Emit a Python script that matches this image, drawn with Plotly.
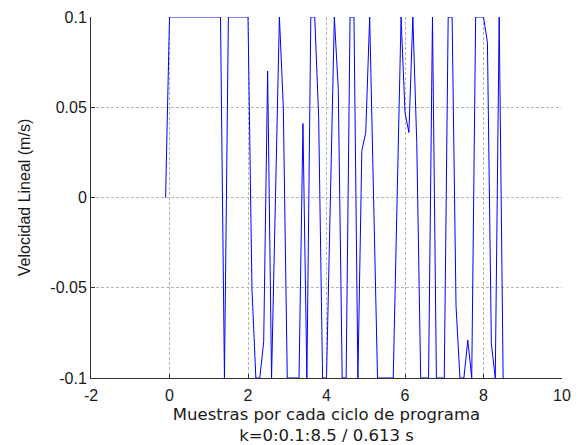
import plotly.graph_objects as go

# sample positions: start point plus k = 0:0.1:8.5
k_values = [-0.1,
            0.0, 0.1, 0.2, 0.3, 0.4, 0.5, 0.6, 0.7, 0.8, 0.9,
            1.0, 1.1, 1.2, 1.3, 1.4, 1.5, 1.6, 1.7, 1.8, 1.9,
            2.0, 2.1, 2.2, 2.3, 2.4, 2.5, 2.6, 2.7, 2.8, 2.9,
            3.0, 3.1, 3.2, 3.3, 3.4, 3.5, 3.6, 3.7, 3.8, 3.9,
            4.0, 4.1, 4.2, 4.3, 4.4, 4.5, 4.6, 4.7, 4.8, 4.9,
            5.0, 5.1, 5.2, 5.3, 5.4, 5.5, 5.6, 5.7, 5.8, 5.9,
            6.0, 6.1, 6.2, 6.3, 6.4, 6.5, 6.6, 6.7, 6.8, 6.9,
            7.0, 7.1, 7.2, 7.3, 7.4, 7.5, 7.6, 7.7, 7.8, 7.9,
            8.0, 8.1, 8.2, 8.3, 8.4, 8.5]

velocity = [0.0,
            0.1, 0.1, 0.1, 0.1, 0.1, 0.1, 0.1, 0.1, 0.1, 0.1,
            0.1, 0.1, 0.1, 0.1, -0.1, 0.1, 0.1, 0.1, 0.1, 0.1,
            0.1, -0.05, -0.1, -0.1, -0.08, 0.07, -0.1, 0.0, 0.1, 0.05,
            -0.1, -0.1, -0.1, -0.1, 0.041, -0.1, 0.1, 0.1, 0.045, -0.1,
            -0.1, 0.0, 0.1, 0.06, -0.1, -0.1, 0.1, 0.1, -0.1, 0.026,
            0.036, 0.1, 0.0, -0.1, -0.1, -0.1, -0.1, -0.1, 0.0, 0.1,
            0.047, 0.036, 0.1, 0.03, -0.1, -0.1, -0.1, 0.1, -0.1, -0.1,
            -0.1, 0.1, 0.1, -0.06, -0.1, -0.1, -0.079, -0.1, 0.1, 0.1,
            0.1, 0.086, -0.081, -0.1, 0.1, -0.1]

x_tick_vals = [-2, 0, 2, 4, 6, 8, 10]
x_tick_text = ["-2", "0", "2", "4", "6", "8", "10"]
y_tick_vals = [-0.1, -0.05, 0, 0.05, 0.1]
y_tick_text = ["-0.1", "-0.05", "0", "0.05", "0.1"]

x_title = "Muestras por cada ciclo de programa<br>k=0:0.1:8.5 / 0.613 s"
y_title = "Velocidad Lineal (m/s)"

FONT = "Liberation Sans, Arial, sans-serif"
XFONT = "DejaVu Sans, sans-serif"
TXT = "#1a1a1a"

fig = go.Figure()
fig.add_trace(go.Scatter(
    x=k_values, y=velocity, mode="lines",
    line=dict(color="#0000ff", width=1),
    showlegend=False, hoverinfo="skip",
))

axis_common = dict(
    showgrid=True, gridcolor="#b4b4b4", griddash="3px,2px", gridwidth=1,
    zeroline=False, showline=True, linecolor="#303030", linewidth=1,
    ticks="inside", ticklen=4, tickcolor="#303030", mirror=False,
    tickfont=dict(family=FONT, size=16, color=TXT),
    tickmode="array", automargin=False,
)

fig.update_layout(
    width=582, height=445,
    margin=dict(l=91, r=20, t=17, b=67),
    paper_bgcolor="white", plot_bgcolor="white",
    font=dict(family=FONT, size=16, color=TXT),
    xaxis=dict(range=[-2, 10], tickvals=x_tick_vals, ticktext=x_tick_text,
               ticklabelstandoff=3,
               title=dict(text=x_title, font=dict(family=XFONT, size=16.5, color=TXT), standoff=7),
               **axis_common),
    yaxis=dict(range=[-0.1, 0.1], tickvals=y_tick_vals, ticktext=y_tick_text,
               title=dict(text=y_title, font=dict(family=FONT, size=16, color=TXT), standoff=15),
               **axis_common),
)

fig.write_html("out.html")
